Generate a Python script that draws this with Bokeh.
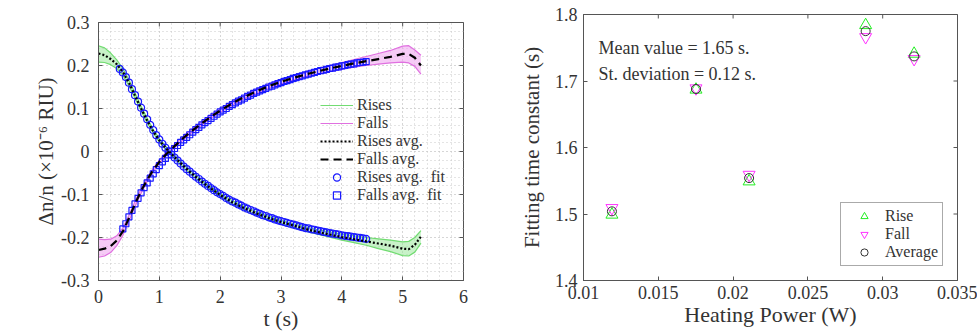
import math
from bokeh.plotting import figure
from bokeh.models import Legend, LegendItem, FixedTicker, Label
from bokeh.layouts import row, column
from bokeh.embed import file_html
from bokeh.resources import INLINE

# ---------------- data: panel a ----------------
t_avg = [0, 0.1, 0.2, 0.3, 0.4, 0.5, 0.6, 0.7, 0.8, 0.9, 1.0, 1.1, 1.2, 1.3, 1.4, 1.5, 1.6, 1.8, 2.0,
         2.2, 2.4, 2.6, 2.8, 3.0, 3.2, 3.4, 3.6, 3.8, 4.0, 4.2, 4.4, 4.6, 4.8, 5.0, 5.1, 5.2, 5.3]
rise_avg = [0.228, 0.224, 0.215, 0.203, 0.185, 0.160, 0.130, 0.100, 0.072, 0.047, 0.026, 0.009, -0.006,
            -0.020, -0.034, -0.047, -0.059, -0.081, -0.101, -0.118, -0.132, -0.144, -0.155, -0.164, -0.172,
            -0.180, -0.187, -0.193, -0.199, -0.204, -0.209, -0.214, -0.219, -0.226, -0.227, -0.217, -0.198]
rise_hi = [0.246, 0.241, 0.229, 0.213, 0.193, 0.167, 0.136, 0.105, 0.077, 0.051, 0.030, 0.013, -0.002,
           -0.016, -0.030, -0.043, -0.055, -0.077, -0.097, -0.114, -0.128, -0.140, -0.151, -0.160, -0.168,
           -0.175, -0.182, -0.187, -0.192, -0.196, -0.200, -0.203, -0.206, -0.210, -0.209, -0.200, -0.184]
rise_lo = [0.208, 0.207, 0.202, 0.193, 0.177, 0.153, 0.124, 0.095, 0.067, 0.043, 0.022, 0.005, -0.010,
           -0.024, -0.038, -0.051, -0.063, -0.085, -0.105, -0.122, -0.136, -0.148, -0.159, -0.168, -0.177,
           -0.185, -0.192, -0.199, -0.206, -0.212, -0.218, -0.226, -0.233, -0.242, -0.243, -0.234, -0.213]
fall_avg = [-0.229, -0.226, -0.220, -0.207, -0.186, -0.155, -0.122, -0.092, -0.066, -0.043, -0.024, -0.008,
            0.006, 0.019, 0.032, 0.044, 0.055, 0.076, 0.095, 0.112, 0.127, 0.140, 0.152, 0.162, 0.171,
            0.179, 0.186, 0.193, 0.199, 0.205, 0.210, 0.215, 0.220, 0.227, 0.227, 0.218, 0.200]
fall_hi = [-0.204, -0.205, -0.204, -0.196, -0.178, -0.148, -0.116, -0.087, -0.062, -0.039, -0.020, -0.004,
           0.010, 0.023, 0.036, 0.048, 0.059, 0.080, 0.099, 0.116, 0.131, 0.145, 0.157, 0.167, 0.176,
           0.185, 0.193, 0.200, 0.207, 0.214, 0.221, 0.228, 0.235, 0.245, 0.246, 0.236, 0.224]
fall_lo = [-0.246, -0.243, -0.235, -0.219, -0.195, -0.162, -0.128, -0.097, -0.070, -0.047, -0.028, -0.012,
           0.002, 0.015, 0.028, 0.040, 0.051, 0.072, 0.091, 0.108, 0.123, 0.135, 0.147, 0.157, 0.166,
           0.174, 0.180, 0.186, 0.191, 0.196, 0.200, 0.203, 0.206, 0.208, 0.206, 0.198, 0.180]

fit_t = [0.35, 0.4, 0.45, 0.5, 0.55, 0.6, 0.65, 0.7, 0.75, 0.8, 0.85, 0.9, 0.95, 1.0, 1.05, 1.1, 1.15, 1.2,
         1.25, 1.3, 1.35, 1.4, 1.45, 1.5, 1.55, 1.6, 1.65, 1.7, 1.75, 1.8, 1.85, 1.9, 1.95, 2.0, 2.05, 2.1,
         2.15, 2.2, 2.25, 2.3, 2.35, 2.4, 2.45, 2.5, 2.55, 2.6, 2.65, 2.7, 2.75, 2.8, 2.85, 2.9, 2.95, 3.0,
         3.05, 3.1, 3.15, 3.2, 3.25, 3.3, 3.35, 3.4, 3.45, 3.5, 3.55, 3.6, 3.65, 3.7, 3.75, 3.8, 3.85, 3.9,
         3.95, 4.0, 4.05, 4.1, 4.15, 4.2, 4.25, 4.3, 4.35, 4.4]
rise_fit = [0.192, 0.184, 0.173, 0.160, 0.145, 0.131, 0.116, 0.102, 0.088, 0.075,
            0.062, 0.050, 0.038, 0.028, 0.018, 0.009, 0.001, -0.007, -0.014, -0.021,
            -0.028, -0.035, -0.041, -0.047, -0.053, -0.059, -0.064, -0.070, -0.075, -0.080,
            -0.085, -0.090, -0.095, -0.099, -0.103, -0.108, -0.112, -0.116, -0.119, -0.123,
            -0.126, -0.130, -0.133, -0.136, -0.139, -0.142, -0.145, -0.148, -0.150, -0.153,
            -0.155, -0.158, -0.160, -0.162, -0.164, -0.166, -0.168, -0.170, -0.172, -0.174,
            -0.176, -0.178, -0.179, -0.181, -0.182, -0.184, -0.185, -0.187, -0.188, -0.190,
            -0.191, -0.192, -0.193, -0.195, -0.196, -0.197, -0.198, -0.199, -0.200, -0.201,
            -0.202, -0.203]
fall_fit_t = fit_t[1:]
fall_fit = [-0.180, -0.168, -0.152, -0.137, -0.122, -0.109, -0.096, -0.084, -0.073, -0.062,
            -0.052, -0.042, -0.033, -0.024, -0.016, -0.008, 0.000, 0.007, 0.014, 0.021,
            0.027, 0.033, 0.039, 0.045, 0.051, 0.056, 0.062, 0.067, 0.072, 0.077,
            0.082, 0.087, 0.092, 0.096, 0.100, 0.105, 0.109, 0.113, 0.117, 0.120,
            0.124, 0.128, 0.131, 0.135, 0.138, 0.141, 0.144, 0.147, 0.150, 0.152,
            0.155, 0.158, 0.160, 0.163, 0.165, 0.167, 0.170, 0.172, 0.174, 0.176,
            0.178, 0.180, 0.182, 0.184, 0.186, 0.188, 0.189, 0.191, 0.193, 0.194,
            0.196, 0.197, 0.199, 0.200, 0.202, 0.203, 0.204, 0.206, 0.207, 0.208,
            0.209]

a_xticks = [0, 1, 2, 3, 4, 5, 6]
a_xlabels = ["0", "1", "2", "3", "4", "5", "6"]
a_yticks = [-0.3, -0.2, -0.1, 0, 0.1, 0.2, 0.3]
a_ylabels = ["-0.3", "-0.2", "-0.1", "0", "0.1", "0.2", "0.3"]

# ---------------- data: panel b ----------------
power = [0.0119, 0.01752, 0.02107, 0.02886, 0.0321]
tau_rise = [1.499, 1.687, 1.549, 1.784, 1.741]
tau_fall = [1.509, 1.689, 1.559, 1.766, 1.733]
tau_avg = [1.504, 1.688, 1.554, 1.775, 1.737]

b_xticks = [0.01, 0.015, 0.02, 0.025, 0.03, 0.035]
b_xlabels = ["0.01", "0.015", "0.02", "0.025", "0.03", "0.035"]
b_yticks = [1.4, 1.5, 1.6, 1.7, 1.8]
b_ylabels = ["1.4", "1.5", "1.6", "1.7", "1.8"]

FONT = "Liberation Serif"
TXT = "#333333"
BOX = "#555555"

# minor (grid) positions of panel a: 5 subdivisions per major tick
a_xminor = [round(a_xticks[0] + 0.2 * k, 3) for k in range(31)]
a_yminor = [round(a_yticks[0] + 0.02 * k, 3) for k in range(31)]


def style_axis(ax, ticks, labels, minor=None):
    ax.ticker = FixedTicker(ticks=ticks, minor_ticks=minor or [])
    ax.major_label_overrides = {tk: lb for tk, lb in zip(ticks, labels)}
    ax.major_tick_in = 4
    ax.major_tick_out = 0
    ax.minor_tick_line_color = None
    ax.major_tick_line_color = BOX
    ax.axis_line_color = BOX
    ax.major_label_text_font = FONT
    ax.major_label_text_font_size = "18px"
    ax.major_label_text_color = TXT
    ax.axis_label_text_font = FONT
    ax.axis_label_text_font_size = "22px"
    ax.axis_label_text_font_style = "normal"
    ax.axis_label_text_color = TXT


def mirror_ticks(p, xticks, yticks):
    # inward ticks on the top and right edges of the box (half of each dash is clipped)
    top = [yticks[-1]] * len(xticks)
    right = [xticks[-1]] * len(yticks)
    p.scatter(xticks, top, marker="dash", angle=math.pi / 2, size=8, line_color=BOX, line_width=1)
    p.scatter(right, yticks, marker="dash", size=8, line_color=BOX, line_width=1)


# ================= panel a =================
p1 = figure(width=480, height=333, x_range=(0, 6), y_range=(-0.3, 0.3), title=None,
            output_backend="svg", toolbar_location=None,
            min_border_left=98, min_border_right=17, min_border_top=22, min_border_bottom=52)
p1.outline_line_color = BOX
p1.background_fill_color = "white"

style_axis(p1.xaxis[0], a_xticks, a_xlabels, minor=a_xminor)
style_axis(p1.yaxis[0], a_yticks, a_ylabels, minor=a_yminor)
p1.xaxis[0].axis_label = "t (s)"
p1.yaxis[0].axis_label = "Δn/n (×10⁻⁶ RIU)"
p1.yaxis[0].axis_label_text_font_size = "21px"
p1.xaxis[0].major_label_standoff = 5
p1.xaxis[0].axis_label_standoff = 0
p1.yaxis[0].major_label_standoff = 5
p1.yaxis[0].axis_label_standoff = 0

for g in (p1.xgrid[0], p1.ygrid[0]):
    g.grid_line_color = "#c8c8c8"
    g.grid_line_dash = "1 3"
    g.grid_line_width = 1
    g.minor_grid_line_color = "#c8c8c8"
    g.minor_grid_line_dash = "1 3"
    g.minor_grid_line_width = 1

# bands of individual runs
p1.varea(x=t_avg, y1=rise_lo, y2=rise_hi, fill_color="#9be89b", fill_alpha=0.55)
p1.varea(x=t_avg, y1=fall_lo, y2=fall_hi, fill_color="#eea0ee", fill_alpha=0.55)
r_rise = p1.line(t_avg, rise_hi, line_color="#72dc72", line_width=1.2)
p1.line(t_avg, rise_lo, line_color="#72dc72", line_width=1.2)
r_fall = p1.line(t_avg, fall_hi, line_color="#e070e0", line_width=1.2)
p1.line(t_avg, fall_lo, line_color="#e070e0", line_width=1.2)

r_rfit = p1.scatter(fit_t, rise_fit, marker="circle", size=7, fill_color=None,
                    line_color="#1a1aff", line_width=1.2)
r_ffit = p1.scatter(fall_fit_t, fall_fit, marker="square", size=6, fill_color=None,
                    line_color="#1a1aff", line_width=1.2)

r_ravg = p1.line(t_avg, rise_avg, line_color="black", line_width=2.2, line_dash="2 2")
r_favg = p1.line(t_avg, fall_avg, line_color="black", line_width=2.2, line_dash="8 5")

mirror_ticks(p1, a_xticks, a_yticks)

leg1 = Legend(items=[
    LegendItem(label="Rises", renderers=[r_rise]),
    LegendItem(label="Falls", renderers=[r_fall]),
    LegendItem(label="Rises avg.", renderers=[r_ravg]),
    LegendItem(label="Falls avg.", renderers=[r_favg]),
    LegendItem(label="Rises avg.  fit", renderers=[r_rfit]),
    LegendItem(label="Falls avg.  fit", renderers=[r_ffit]),
], location=(222, 76))
leg1.border_line_color = None
leg1.background_fill_alpha = 0
leg1.label_text_font = FONT
leg1.label_text_font_size = "16px"
leg1.label_text_color = TXT
leg1.glyph_width = 33
leg1.glyph_height = 18
leg1.label_height = 18
leg1.spacing = 0
leg1.padding = 2
leg1.margin = 0
leg1.label_standoff = 4
p1.add_layout(leg1)

p1.add_layout(Label(x=-1.45, y=0.323, text="a)", text_font=FONT, text_font_size="22px",
                    text_color="black", text_baseline="top"))

# ================= panel b =================
p2 = figure(width=497, height=333, x_range=(0.01, 0.035), y_range=(1.4, 1.8), title=None,
            output_backend="svg", toolbar_location=None,
            min_border_left=103, min_border_right=20, min_border_top=14, min_border_bottom=53)
p2.outline_line_color = BOX
p2.xgrid.visible = False
p2.ygrid.visible = False

style_axis(p2.xaxis[0], b_xticks, b_xlabels)
style_axis(p2.yaxis[0], b_yticks, b_ylabels)
p2.xaxis[0].axis_label = "Heating Power (W)"
p2.yaxis[0].axis_label = "Fitting time constant (s)"
p2.yaxis[0].axis_label_text_font_size = "21px"
p2.xaxis[0].major_label_standoff = 5
p2.xaxis[0].axis_label_standoff = 0
p2.yaxis[0].major_label_standoff = 6
p2.yaxis[0].axis_label_standoff = 8

r_r = p2.scatter(power, tau_rise, marker="triangle", size=12, fill_color=None,
                 line_color="#22ee22", line_width=1)
r_f = p2.scatter(power, tau_fall, marker="inverted_triangle", size=12, fill_color=None,
                 line_color="#ff33ff", line_width=1)
r_a = p2.scatter(power, tau_avg, marker="circle", size=9, fill_color=None,
                 line_color="#333333", line_width=1)

mirror_ticks(p2, b_xticks, b_yticks)

leg2 = Legend(items=[
    LegendItem(label="Rise", renderers=[r_r]),
    LegendItem(label="Fall", renderers=[r_f]),
    LegendItem(label="Average", renderers=[r_a]),
], location="bottom_right")
leg2.border_line_color = BOX
leg2.border_line_width = 1
leg2.background_fill_color = "white"
leg2.label_text_font = FONT
leg2.label_text_font_size = "16px"
leg2.label_text_color = TXT
leg2.glyph_width = 38
leg2.glyph_height = 18
leg2.label_height = 18
leg2.spacing = 0
leg2.padding = 4
leg2.margin = 14
leg2.label_standoff = 2
p2.add_layout(leg2)

p2.add_layout(Label(x=0.011, y=1.750, text="Mean value = 1.65 s.", text_font=FONT,
                    text_font_size="18px", text_color=TXT, text_baseline="middle"))
p2.add_layout(Label(x=0.011, y=1.711, text="St. deviation = 0.12 s.", text_font=FONT,
                    text_font_size="18px", text_color=TXT, text_baseline="middle"))
p2.add_layout(Label(x=0.0038, y=1.809, text="b)", text_font=FONT, text_font_size="22px",
                    text_color="black", text_baseline="top"))

layout = row(column(p1), column(p2))
open("out.html", "w").write(file_html(layout, INLINE))
